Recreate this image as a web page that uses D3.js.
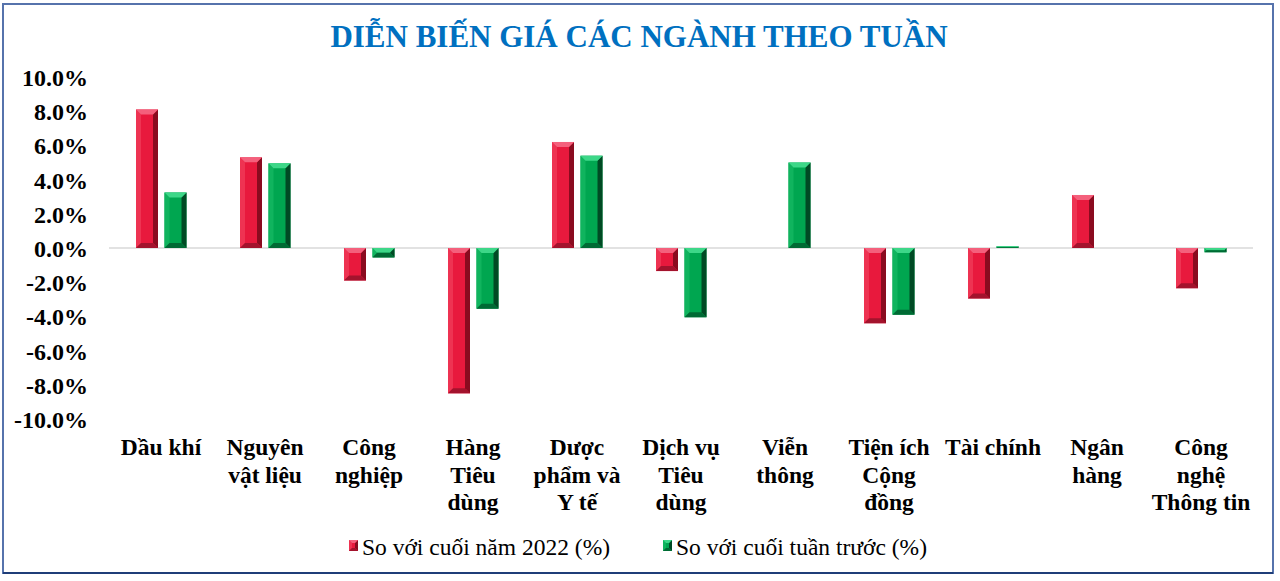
<!DOCTYPE html>
<html><head><meta charset="utf-8">
<script src="https://cdn.jsdelivr.net/npm/d3@7"></script>
<style>body{margin:0;background:#fff}svg{display:block}text{font-family:"Liberation Serif","Times New Roman",serif}</style>
</head><body>
<svg id="c" width="1280" height="581"></svg>
<script>
const title = "DIỄN BIẾN GIÁ CÁC NGÀNH THEO TUẦN";
const categories = ["Dầu khí","Nguyên vật liệu","Công nghiệp","Hàng Tiêu dùng","Dược phẩm và Y tế","Dịch vụ Tiêu dùng","Viễn thông","Tiện ích Cộng đồng","Tài chính","Ngân hàng","Công nghệ Thông tin"];
const labelLines = [["Dầu khí"],["Nguyên","vật liệu"],["Công","nghiệp"],["Hàng","Tiêu","dùng"],["Dược","phẩm và","Y tế"],["Dịch vụ","Tiêu","dùng"],["Viễn","thông"],["Tiện ích","Cộng","đồng"],["Tài chính"],["Ngân","hàng"],["Công","nghệ","Thông tin"]];
const seriesNames = ["So với cuối năm 2022 (%)","So với cuối tuần trước (%)"];
const ytdValues  = [8.1, 5.3, -1.9, -8.5, 6.2, -1.35, 0, -4.4, -2.95, 3.1, -2.35];
const weekValues = [3.25, 4.95, -0.55, -3.55, 5.4, -4.05, 5.0, -3.9, 0.1, 0, -0.25];
const yTicks = [10, 8, 6, 4, 2, 0, -2, -4, -6, -8, -10];

const palettes = [
  {face:"#E8193D", light:"#F4607C", left:"#EE3352", right:"#8A0B1F", bottom:"#A3132D"},
  {face:"#00A650", light:"#3DD788", left:"#10B45E", right:"#004A24", bottom:"#006A34"}
];

const svg = d3.select("#c");
// frame
svg.append("rect").attr("x",3).attr("y",4).attr("width",1270).attr("height",569)
  .attr("fill","#fff").attr("stroke","#5673AC").attr("stroke-width",2);
svg.append("line").attr("x1",3).attr("x2",1273).attr("y1",573).attr("y2",573)
  .attr("stroke","#1F3E78").attr("stroke-width",2);

svg.append("text").attr("x",639).attr("y",47).attr("text-anchor","middle")
  .attr("font-size",31).attr("font-weight","bold").attr("fill","#0070C0").text(title);

const x0 = d3.scaleBand().domain(categories).range([109,1253]);
const x1 = d3.scaleBand().domain([0,1]).range([27,77.5]).paddingInner(0.228);
const y = d3.scaleLinear().domain([-10,10]).range([419,77]);

// zero line
svg.append("line").attr("x1",x0.range()[0]).attr("x2",x0.range()[1])
  .attr("y1",y(0)).attr("y2",y(0)).attr("stroke","#D9D9D9").attr("stroke-width",1.5);

// y axis
const yAxis = svg.append("g").attr("transform","translate(88,0)")
  .call(d3.axisLeft(y).tickValues(yTicks).tickSize(0).tickPadding(0)
    .tickFormat(v => v.toFixed(1) + "%"));
yAxis.select(".domain").remove();
yAxis.selectAll("text").attr("font-size",24).attr("font-weight","bold").attr("fill","#000")
  .style("font-family","Liberation Serif").attr("dy","0.35em");

function bevelBar(g, x, yTop, w, h, p, bmax) {
  if (h <= 0) return;
  const b = Math.min(bmax, h/2, w/2);
  g.append("rect").attr("x",x).attr("y",yTop).attr("width",w).attr("height",h).attr("fill",p.face);
  const poly = (pts, fill) => g.append("polygon").attr("points", pts.map(q=>q.join(",")).join(" ")).attr("fill",fill);
  poly([[x,yTop],[x+b,yTop+b],[x+b,yTop+h-b],[x,yTop+h]], p.left);
  poly([[x+w,yTop],[x+w-b,yTop+b],[x+w-b,yTop+h-b],[x+w,yTop+h]], p.right);
  poly([[x,yTop],[x+w,yTop],[x+w-b,yTop+b],[x+b,yTop+b]], p.light);
  poly([[x,yTop+h],[x+w,yTop+h],[x+w-b,yTop+h-b],[x+b,yTop+h-b]], p.bottom);
}

const series = [ytdValues, weekValues];
const barsG = svg.append("g");
series.forEach((vals, si) => {
  vals.forEach((v, i) => {
    const xx = x0(categories[i]) + x1(si);
    const top = y(Math.max(0, v));
    const h = Math.abs(y(v) - y(0));
    bevelBar(barsG, xx, top, x1.bandwidth(), h, palettes[si], 5);
  });
});

// category labels
const xAxis = svg.append("g")
  .call(d3.axisBottom(x0).tickSize(0).tickFormat(""));
xAxis.select(".domain").remove();
xAxis.selectAll(".tick").each(function(d, i) {
  const t = d3.select(this).append("text").attr("text-anchor","middle")
    .attr("font-size",23.5).attr("font-weight","bold").attr("fill","#000")
    .style("font-family","Liberation Serif");
  labelLines[i].forEach((ln, k) => {
    t.append("tspan").attr("x",0).attr("y",455 + k*27.5).text(ln);
  });
});

// legend
const legendX = [349, 663];
seriesNames.forEach((name, si) => {
  const g = svg.append("g");
  bevelBar(g, legendX[si], 540, 9, 11, palettes[si], 3);
  g.append("text").attr("x",legendX[si]+13).attr("y",555).attr("font-size",23.5)
    .attr("fill","#000").text(name);
});
</script>
</body></html>
